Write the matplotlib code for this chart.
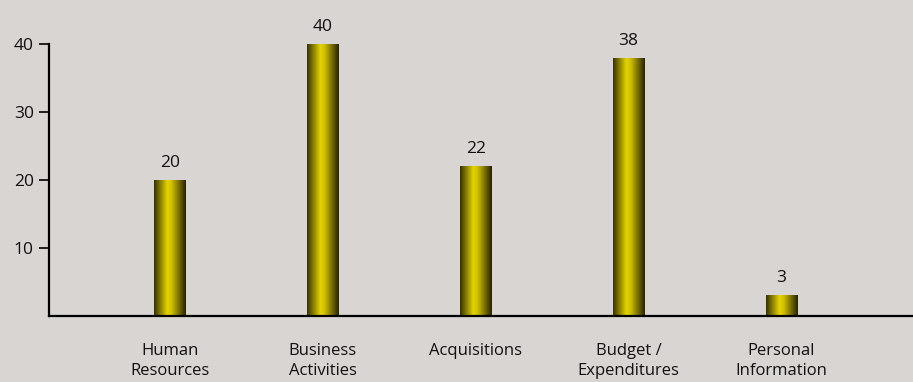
import numpy as np
import matplotlib.pyplot as plt
from matplotlib.colors import LinearSegmentedColormap

categories = ["Human\nResources", "Business\nActivities", "Acquisitions",
              "Budget /\nExpenditures", "Personal\nInformation"]
counts = [20, 40, 22, 38, 3]
yticks = [10, 20, 30, 40]

bg = "#d9d5d2"
plt.rcParams['font.family'] = ['Open Sans', 'DejaVu Sans']

# dark olive edges, bright yellow just left of centre
shine = LinearSegmentedColormap.from_list(
    "shine", [(0.0, "#363100"), (0.42, "#e4d400"), (0.55, "#cfc000"), (1.0, "#262200")])

fig = plt.figure(figsize=(9.13, 3.82), dpi=100, facecolor=bg)
ax = fig.add_axes([49 / 913, 66.5 / 382, 1 - 49 / 913, 1 - 66.5 / 382])
ax.set_facecolor(bg)

x = np.arange(len(counts))
width = 0.205
bars = ax.bar(x, counts, width=width, color="none", edgecolor="none")
grad = np.linspace(0, 1, 256).reshape(1, -1)
for b, v in zip(bars, counts):
    x0 = b.get_x()
    im = ax.imshow(grad, cmap=shine, aspect="auto",
                   extent=[x0, x0 + width, 0, v], zorder=2)
    im.set_clip_path(b)
    ax.text(b.get_x() + width / 2, v + 1.9, str(v), ha="center", va="baseline",
            fontsize=12.5, color="#111111", clip_on=False)

ax.set_xlim(-0.79, 4.86)
ax.set_ylim(0, 46.5)

ax.spines[["top", "right"]].set_visible(False)
ax.spines["left"].set_bounds(0, 40)
ax.spines["left"].set_linewidth(1.6)
ax.spines["bottom"].set_linewidth(1.6)

ax.set_yticks(yticks)
ax.set_yticklabels([str(t) for t in yticks], fontsize=12.5, color="#111111")
ax.tick_params(axis="y", length=7, width=1.2, pad=4)

ax.set_xticks(x)
ax.set_xticklabels(categories, fontsize=12, color="#111111",
                   va="top", linespacing=1.35)
ax.tick_params(axis="x", length=0, pad=20)

fig.savefig("out.png", dpi=100, facecolor=bg)
